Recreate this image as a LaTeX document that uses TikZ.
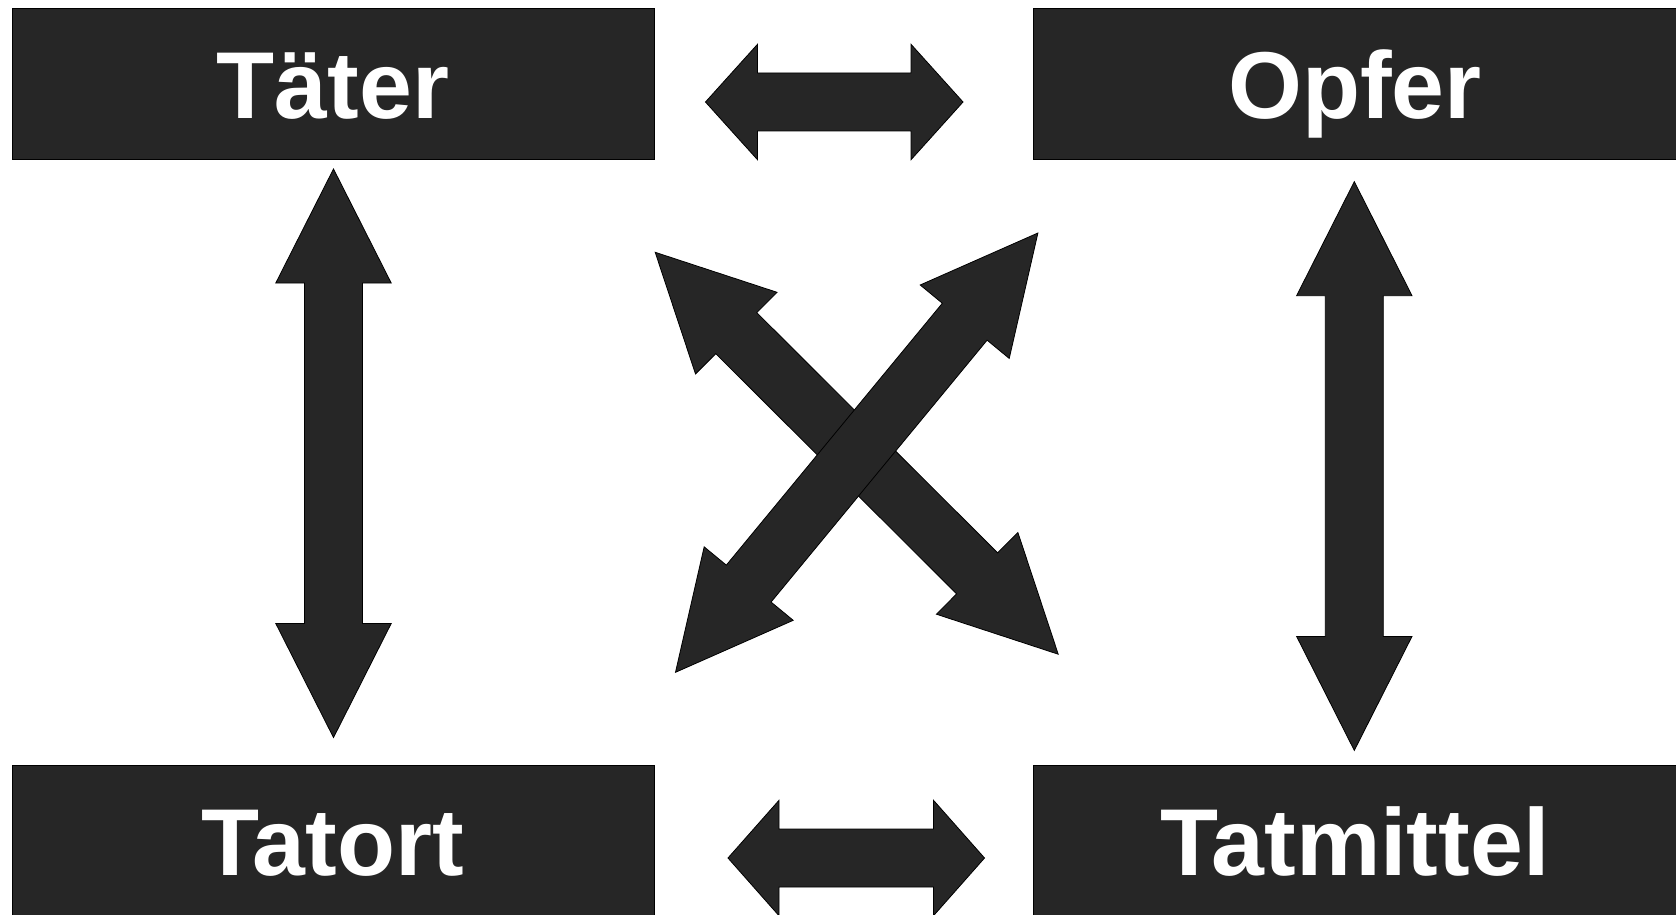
\documentclass[tikz,border=0pt]{standalone}
\usepackage{fontspec}
\setmainfont{Liberation Sans}
\usetikzlibrary{calc}

\definecolor{boxfill}{HTML}{262626}

% double-headed block arrow between two named tips;
% #1, #2: tips, #3: head length
\newcommand{\headw}{57.7pt}
\newcommand{\shaftw}{29pt}
\newcommand{\dblblock}[3]{%
  \filldraw[blockarrow]
    (#1)
    -- ($(#1)!#3!(#2)!\headw!90:(#2)$)
    -- ($(#1)!#3!(#2)!\shaftw!90:(#2)$)
    -- ($(#2)!#3!(#1)!\shaftw!-90:(#1)$)
    -- ($(#2)!#3!(#1)!\headw!-90:(#1)$)
    -- (#2)
    -- ($(#2)!#3!(#1)!\headw!90:(#1)$)
    -- ($(#2)!#3!(#1)!\shaftw!90:(#1)$)
    -- ($(#1)!#3!(#2)!\shaftw!-90:(#2)$)
    -- ($(#1)!#3!(#2)!\headw!-90:(#2)$)
    -- cycle;}

\begin{document}
\begin{tikzpicture}[x=1pt, y=-1pt,
  box/.style={rectangle, fill=boxfill, draw=black, line width=1pt,
    inner sep=0pt, text=white, font=\fontsize{95}{100}\selectfont\bfseries,
    text height=68pt, text depth=0pt},
  blockarrow/.style={fill=boxfill, draw=black, line width=0.8pt, line join=miter}]

  \useasboundingbox (0,0) rectangle (1676,915);
  \clip (0,0) rectangle (1676,915);

  % the four boxes
  \node[box, minimum width=642pt, minimum height=151.5pt] (taeter) at (333,84.25) {Täter};
  \node[box, minimum width=644pt, minimum height=151.5pt] (opfer) at (1355,84.25) {Opfer};
  \node[box, minimum width=642pt, minimum height=152pt] (tatort) at (333,841) {Tatort};
  \node[box, minimum width=644pt, minimum height=152pt] (tatmittel) at (1355,841) {Tatmittel};

  % arrow tips
  \coordinate (h1a) at (705.5,102);
  \coordinate (h1b) at (963,102);
  \coordinate (h2a) at (728,858);
  \coordinate (h2b) at (984.5,858);
  \coordinate (v1a) at (333.5,169);
  \coordinate (v1b) at (333.5,737.5);
  \coordinate (v2a) at (1354.3,181.7);
  \coordinate (v2b) at (1354.3,750.4);
  \coordinate (d1a) at (655.2,252.3);
  \coordinate (d1b) at (1058.2,654.2);
  \coordinate (d2a) at (1037.9,233);
  \coordinate (d2b) at (675.5,672.3);

  % horizontal links
  \dblblock{h1a}{h1b}{52pt}
  \dblblock{h2a}{h2b}{51pt}
  % vertical links
  \dblblock{v1a}{v1b}{114pt}
  \dblblock{v2a}{v2b}{114pt}
  % diagonal links
  \dblblock{d1a}{d1b}{114.5pt}
  \dblblock{d2a}{d2b}{115pt}
\end{tikzpicture}
\end{document}
